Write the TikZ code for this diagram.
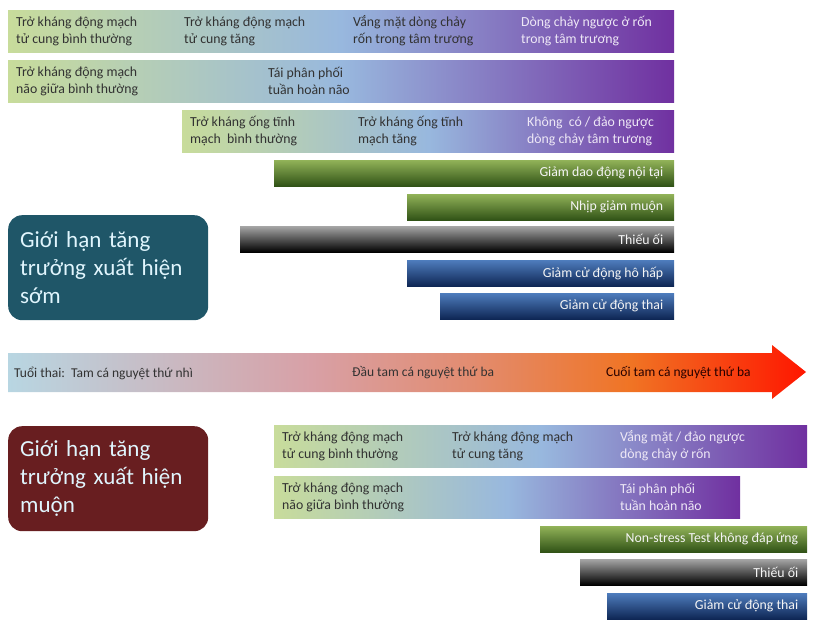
\documentclass[tikz,border=0pt]{standalone}
\usepackage{fontspec}
\setmainfont{Carlito}
\usetikzlibrary{positioning}

\definecolor{barGreen}{RGB}{200,220,155}
\definecolor{barBlue}{RGB}{152,184,222}
\definecolor{barPurple}{RGB}{112,48,160}
\definecolor{oliveTop}{RGB}{145,178,88}
\definecolor{oliveBot}{RGB}{48,82,22}
\definecolor{greyTop}{RGB}{165,165,165}
\definecolor{navyTop}{RGB}{78,124,188}
\definecolor{navyBot}{RGB}{14,38,84}
\definecolor{earlyFill}{RGB}{31,86,104}
\definecolor{lateFill}{RGB}{104,30,32}
\definecolor{txtDark}{RGB}{50,50,50}
\definecolor{txtLight}{RGB}{238,232,246}
\definecolor{ageA}{RGB}{184,214,226}
\definecolor{ageB}{RGB}{216,160,166}
\definecolor{ageC}{RGB}{226,140,112}
\definecolor{ageD}{RGB}{240,116,36}
\definecolor{ageE}{RGB}{255,22,0}

% tikz maps 25bp..75bp onto the path
\pgfdeclarehorizontalshading{agegrad}{100bp}{color(0bp)=(ageA); color(25bp)=(ageA); color(44bp)=(ageB); color(54bp)=(ageC); color(64bp)=(ageD); color(75bp)=(ageE); color(100bp)=(ageE)}

\begin{document}
\begin{tikzpicture}[x=1pt, y=-1pt,
  bar/.style={rectangle, inner sep=0, anchor=north west},
  trendbar/.style={bar, minimum height=42, left color=barGreen, right color=barPurple, middle color=barBlue},
  signbar/.style={bar, minimum height=26},
  olivebar/.style={signbar, top color=oliveTop, bottom color=oliveBot},
  blackbar/.style={signbar, top color=greyTop, bottom color=black},
  navybar/.style={signbar, top color=navyTop, bottom color=navyBot},
  lbl/.style={anchor=west, align=left, inner sep=0, text=txtDark, font=\fontsize{13.8}{17}\selectfont},
  lbllight/.style={lbl, text=txtLight},
  tag/.style={anchor=east, inner sep=0, text=white!92!gray, font=\fontsize{13.8}{17}\selectfont},
  groupbox/.style={rectangle, rounded corners=14, anchor=north west, minimum width=200, minimum height=105,
    text width=176, inner xsep=12, inner ysep=0, align=left, text=white!88!cyan, font=\fontsize{23}{28}\selectfont},
  agelbl/.style={anchor=west, inner sep=0, text=txtDark, font=\fontsize{13.5}{16}\selectfont}]
  \useasboundingbox (0,0) rectangle (821,628);

  % early onset
  \node[trendbar, minimum width=666] (ua) at (8,10) {};
  \node[lbl] (ua1) at (16,31) {Trở kháng động mạch\\tử cung bình thường};
  \node[lbl] (ua2) at (184,31) {Trở kháng động mạch\\tử cung tăng};
  \node[lbl] (ua3) at (353,31) {Vắng mặt dòng chảy\\rốn trong tâm trương};
  \node[lbllight] (ua4) at (521,31) {Dòng chảy ngược ở rốn\\trong tâm trương};

  \node[trendbar, minimum width=666] (mca) at (8,60) {};
  \node[lbl] (mca1) at (16,81) {Trở kháng động mạch\\não giữa bình thường};
  \node[lbl] (mca2) at (268,81) {Tái phân phối\\tuần hoàn não};

  \node[trendbar, minimum width=492] (dv) at (182,110) {};
  \node[lbl] (dv1) at (190,131) {Trở kháng ống tĩnh\\mạch\ \ bình thường};
  \node[lbl] (dv2) at (358,131) {Trở kháng ống tĩnh\\mạch tăng};
  \node[lbllight] (dv3) at (527,131) {Không\ \ có / đảo ngược\\dòng chảy tâm trương};

  \node[olivebar, minimum width=400] (var) at (274,160) {};
  \node[tag, left=11pt of var.east] {Giảm dao động nội tại};
  \node[olivebar, minimum width=267] (dec) at (407,194) {};
  \node[tag, left=11pt of dec.east] {Nhịp giảm muộn};
  \node[blackbar, minimum width=434] (oligo) at (240,226) {};
  \node[tag, left=11pt of oligo.east] {Thiếu ối};
  \node[navybar, minimum width=267] (breath) at (407,260) {};
  \node[tag, left=11pt of breath.east] {Giảm cử động hô hấp};
  \node[navybar, minimum width=234] (move) at (440,293) {};
  \node[tag, left=11pt of move.east] {Giảm cử động thai};

  \node[groupbox, fill=earlyFill] (early) at (8,215) {Giới hạn tăng\\trưởng xuất hiện\\sớm};

  % gestational age
  \shade[shading=agegrad] (8,353) -- (772,353) -- (772,345) -- (806,372) -- (772,399) -- (772,392) -- (8,392) -- cycle;
  \node[agelbl] (ga1) at (14,373) {Tuổi thai:\ \ Tam cá nguyệt thứ nhì};
  \node[agelbl] (ga2) at (352,373) {Đầu tam cá nguyệt thứ ba};
  \node[agelbl, text=black!85!red] (ga3) at (606,373) {Cuối tam cá nguyệt thứ ba};

  % late onset
  \node[groupbox, fill=lateFill] (late) at (8,426) {Giới hạn tăng\\trưởng xuất hiện\\muộn};

  \node[trendbar, minimum width=533] (lua) at (274,425) {};
  \node[lbl] (lua1) at (282,446) {Trở kháng động mạch\\tử cung bình thường};
  \node[lbl] (lua2) at (452,446) {Trở kháng động mạch\\tử cung tăng};
  \node[lbllight] (lua3) at (620,446) {Vắng mặt / đảo ngược\\dòng chảy ở rốn};

  \node[trendbar, minimum width=466] (lmca) at (274,476) {};
  \node[lbl] (lmca1) at (282,497) {Trở kháng động mạch\\não giữa bình thường};
  \node[lbllight] (lmca2) at (620,497) {Tái phân phối\\tuần hoàn não};

  \node[olivebar, minimum width=267] (nst) at (540,526) {};
  \node[tag, left=9pt of nst.east] {Non-stress Test không đáp ứng};
  \node[blackbar, minimum width=227] (loligo) at (580,559) {};
  \node[tag, left=9pt of loligo.east] {Thiếu ối};
  \node[navybar, minimum width=200] (lmove) at (607,593) {};
  \node[tag, left=9pt of lmove.east] {Giảm cử động thai};
\end{tikzpicture}
\end{document}
